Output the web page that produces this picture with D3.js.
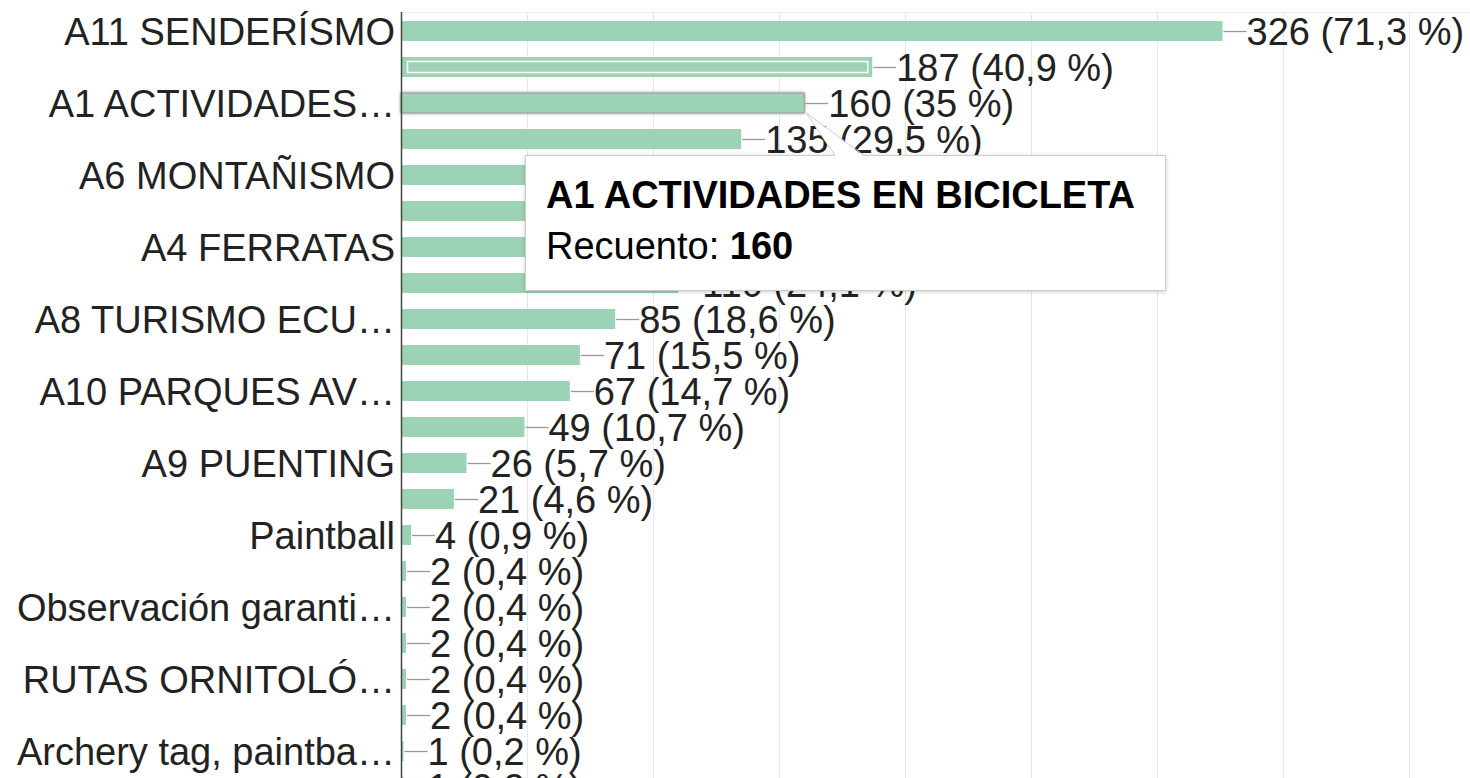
<!DOCTYPE html>
<html>
<head>
<meta charset="utf-8">
<script src="https://cdn.jsdelivr.net/npm/d3@7"></script>
<style>
  html, body { margin: 0; padding: 0; background: #fff; overflow: hidden; }
  svg { display: block; font-family: Arial, "Liberation Sans", sans-serif; }
</style>
</head>
<body>
<div class="container"></div>
<script>
// rows, top to bottom; only every other row gets a label on the axis
let categories = ['A11 SENDERÍSMO', 'A5 BARRANQUISMO', 'A1 ACTIVIDADES EN BICICLETA', 'A7 PIRAGÜISMO',
  'A6 MONTAÑISMO', 'A2 ESCALADA', 'A4 FERRATAS', 'A3 ESPELEOLOGÍA', 'A8 TURISMO ECUESTRE',
  'A12 RAFTING', 'A10 PARQUES AVENTURA', 'A13 ORIENTACIÓN', 'A9 PUENTING', 'A14 PARAPENTE',
  'Paintball', 'Kayak de mar', 'Observación garantizada de fauna', 'Tiro con arco',
  'RUTAS ORNITOLÓGICAS', 'Snorkel', 'Archery tag, paintball y laser tag', 'Geocaching'];

let tickLabels = ['A11 SENDERÍSMO', '', 'A1 ACTIVIDADES…', '', 'A6 MONTAÑISMO', '', 'A4 FERRATAS', '',
  'A8 TURISMO ECU…', '', 'A10 PARQUES AV…', '', 'A9 PUENTING', '', 'Paintball', '',
  'Observación garanti…', '', 'RUTAS ORNITOLÓ…', '', 'Archery tag, paintba…', ''];

let counts = [326, 187, 160, 135, 128, 121, 113, 110, 85, 71, 67, 49, 26, 21, 4, 2, 2, 2, 2, 2, 1, 1];

let totalAnswers = 457;
let xTicks = [50, 100, 150, 200, 250, 300, 350, 400];

let selectedRow = 1,   // bar drawn with the white inner outline
    hoverRow = 2;      // bar the tooltip is pointing at

let width = 1470,
    height = 778,
    axisX = 401,
    plotTop = 12,
    rowStep = 36,
    barH = 20;

let data = categories.map((c, i) => ({ name: c, label: tickLabels[i], value: counts[i], i: i }));

let svg = d3.select('.container')
  .append('svg')
  .attr('width', width)
  .attr('height', height);

let defs = svg.append('defs');
defs.append('filter').attr('id', 'shadow').attr('x', '-10%').attr('y', '-20%').attr('width', '120%').attr('height', '140%')
  .append('feDropShadow').attr('dx', 0).attr('dy', 1).attr('stdDeviation', 2)
  .attr('flood-color', '#000').attr('flood-opacity', 0.2);
defs.append('filter').attr('id', 'glow').attr('x', '-5%').attr('y', '-50%').attr('width', '110%').attr('height', '200%')
  .append('feDropShadow').attr('dx', 0).attr('dy', 0).attr('stdDeviation', 1.5)
  .attr('flood-color', '#000').attr('flood-opacity', 0.45);

let xScale = d3.scaleLinear()
  .domain([0, 400])
  .range([axisX, axisX + 8 * 126]);

let yScale = d3.scaleBand()
  .domain(d3.range(data.length))
  .range([plotTop + 1, plotTop + 1 + rowStep * data.length])
  .paddingInner((rowStep - barH) / rowStep)
  .paddingOuter((rowStep - barH) / rowStep / 2);

let pct = v => d3.format('.1~f')(v / totalAnswers * 100).replace('.', ',');

// grid
svg.append('g')
  .selectAll('line')
  .data(xTicks)
  .enter()
  .append('line')
  .attr('x1', d => Math.round(xScale(d)) + 0.5)
  .attr('x2', d => Math.round(xScale(d)) + 0.5)
  .attr('y1', plotTop)
  .attr('y2', height)
  .attr('stroke', '#e8e8e8');

svg.append('line')
  .attr('x1', axisX).attr('x2', width)
  .attr('y1', plotTop + 0.5).attr('y2', plotTop + 0.5)
  .attr('stroke', '#eeeeee');

// bars
svg.append('g')
  .selectAll('rect')
  .data(data)
  .enter()
  .append('rect')
  .attr('x', xScale(0))
  .attr('y', d => yScale(d.i))
  .attr('width', d => xScale(d.value) - xScale(0))
  .attr('height', yScale.bandwidth())
  .attr('fill', '#9cd3b6')
  .attr('stroke', d => d.i === hoverRow ? '#9a9a9a' : 'none')
  .attr('filter', d => d.i === hoverRow ? 'url(#glow)' : null);

let sel = data[selectedRow];
svg.append('rect')
  .attr('x', xScale(0) + 6.5)
  .attr('y', yScale(sel.i) + 4.5)
  .attr('width', xScale(sel.value) - xScale(0) - 11)
  .attr('height', yScale.bandwidth() - 9)
  .attr('fill', 'none')
  .attr('stroke', '#fff')
  .attr('stroke-width', 1.5);

// value labels with leader lines
let vals = svg.append('g')
  .selectAll('g')
  .data(data)
  .enter()
  .append('g')
  .attr('transform', d => `translate(${xScale(d.value)}, ${yScale(d.i) + yScale.bandwidth() / 2})`);

vals.append('line')
  .attr('x1', 1).attr('x2', 24)
  .attr('y1', 0.5).attr('y2', 0.5)
  .attr('stroke', '#999')
  .attr('stroke-width', 1.3);

vals.append('text')
  .attr('x', 24)
  .attr('dy', '0.37em')
  .style('font-size', '38px')
  .attr('fill', '#222')
  .text(d => `${d.value} (${pct(d.value)} %)`);

// category axis
let yAxis = d3.axisLeft(yScale)
  .tickSize(0)
  .tickPadding(6)
  .tickFormat(i => tickLabels[i]);

let axisG = svg.append('g')
  .attr('transform', `translate(${axisX}, 0)`)
  .call(yAxis);

axisG.select('.domain').remove();
axisG.selectAll('text')
  .attr('dy', '0.37em')
  .style('font-size', '38px')
  .style('font-family', 'Arial, "Liberation Sans", sans-serif')
  .attr('fill', '#222');

svg.append('line')
  .attr('x1', axisX + 0.5).attr('x2', axisX + 0.5)
  .attr('y1', plotTop).attr('y2', height)
  .attr('stroke', '#444')
  .attr('stroke-width', 1.5);

// tooltip for the hovered bar
let hov = data[hoverRow];
let tipX = 525, tipY = 155, tipW = 640, tipH = 135;
let apexX = xScale(hov.value) + 2,
    apexY = yScale(hov.i) + yScale.bandwidth();

let tip = svg.append('g');

tip.append('rect')
  .attr('x', tipX + 0.5).attr('y', tipY + 0.5)
  .attr('width', tipW).attr('height', tipH)
  .attr('fill', '#fff')
  .attr('stroke', '#cccccc')
  .attr('filter', 'url(#shadow)');

tip.append('path')
  .attr('d', `M${apexX + 29},${tipY + 1.5} L${apexX},${apexY} L${apexX + 58},${tipY + 1.5} Z`)
  .attr('fill', '#fff');

tip.append('path')
  .attr('d', `M${apexX + 29},${tipY + 0.5} L${apexX},${apexY} L${apexX + 58},${tipY + 0.5}`)
  .attr('fill', 'none')
  .attr('stroke', '#cccccc');

tip.append('text')
  .attr('x', tipX + 21)
  .attr('y', tipY + 53)
  .style('font-size', '38px')
  .style('font-weight', 'bold')
  .attr('fill', '#000')
  .text(hov.name);

let line2 = tip.append('text')
  .attr('x', tipX + 21)
  .attr('y', tipY + 104)
  .style('font-size', '38px')
  .attr('fill', '#000');
line2.append('tspan').text('Recuento: ');
line2.append('tspan').style('font-weight', 'bold').text(hov.value);
</script>
</body>
</html>
